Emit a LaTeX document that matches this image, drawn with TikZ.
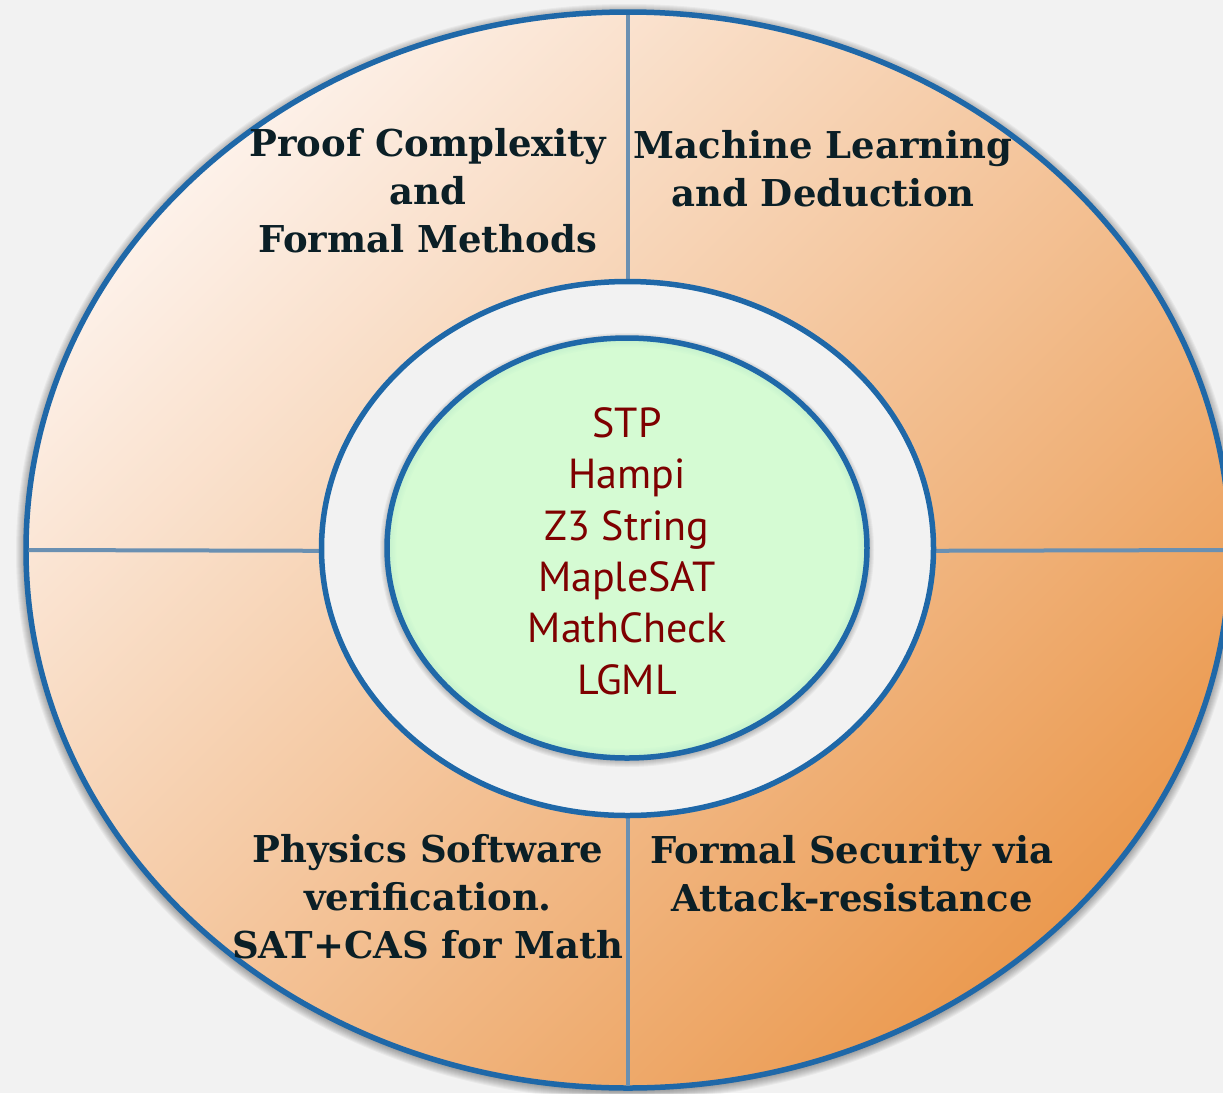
\documentclass[tikz,border=0pt]{standalone}
\usepackage{fontspec}
\setmainfont{DejaVu Serif}
\newfontfamily\gillfont{PT Sans}
\usetikzlibrary{shapes.geometric}
\definecolor{bg}{HTML}{F2F2F2}
\definecolor{ringblue}{HTML}{1F68A8}
\definecolor{divblue}{HTML}{6A90B2}
\definecolor{peachlight}{HTML}{FDF1E9}
\definecolor{peachmid}{HTML}{F6CBA6}
\definecolor{peachdark}{HTML}{EB9A50}
\definecolor{mint}{HTML}{D5FBD3}
\definecolor{mintedge}{HTML}{7FC8C0}
\definecolor{labeldark}{HTML}{0B1F26}
\definecolor{toolred}{HTML}{7E0000}
\begin{document}
\begin{tikzpicture}[x=1pt,y=-1pt,
  area/.style={font=\fontsize{37}{48}\selectfont\bfseries, text=labeldark, align=center, inner sep=0pt},
  tools/.style={font=\gillfont\fontsize{42}{51.4}\selectfont, text=toolred, align=center, inner sep=0pt},
  blob/.style={ellipse, inner sep=0pt, outer sep=0pt, line width=5.5pt, draw=ringblue},
  divider/.style={draw=divblue, line width=4pt},
  softshadow/.style={black, opacity=0.04, line width=#1}]
\fill[bg] (0,0) rectangle (1223,1093);
\clip (0,0) rectangle (1223,1093);
% outer shadow
\foreach \i in {1,...,10}
  \draw[softshadow=\i*2pt] (628,552) ellipse [x radius=602, y radius=538];
\node[blob, minimum width=1204pt, minimum height=1076pt,
      top color=peachlight, middle color=peachmid, bottom color=peachdark, shading angle=45] (outer) at (628,550) {};
\draw[divider, shorten <=2.5pt] (outer.north) -- (628,300);
\draw[divider, shorten >=2.5pt] (628,800) -- (outer.south);
\draw[divider, shorten <=2.5pt] (outer.west) -- (400,551);
\draw[divider, shorten >=2.5pt] (850,551) -- (outer.east);
\node[blob, fill=bg, minimum width=612pt, minimum height=534pt] (ring) at (627.5,548.5) {};
% core shadow
\foreach \i in {1,...,7}
  \draw[softshadow=\i*2pt] (627,550) ellipse [x radius=240, y radius=210];
\node[blob, fill=mint, minimum width=480pt, minimum height=420pt,
  path picture={\foreach \j in {1,...,6}
     \draw[mintedge, opacity=0.035, line width=\j*3pt] (path picture bounding box.center) ellipse [x radius=240, y radius=210];}] (core) at (627,548) {};
\node[area] (tl) at (428,191) {Proof Complexity\\and\\Formal Methods};
\node[area] (tr) at (823,169) {Machine Learning\\and Deduction};
\node[area] (bl) at (428,897) {Physics Software\\verification.\\SAT+CAS for Math};
\node[area] (br) at (852,874) {Formal Security via\\Attack-resistance};
\node[tools] (list) at (627,551) {STP\\Hampi\\Z3 String\\MapleSAT\\MathCheck\\LGML};
\end{tikzpicture}
\end{document}
